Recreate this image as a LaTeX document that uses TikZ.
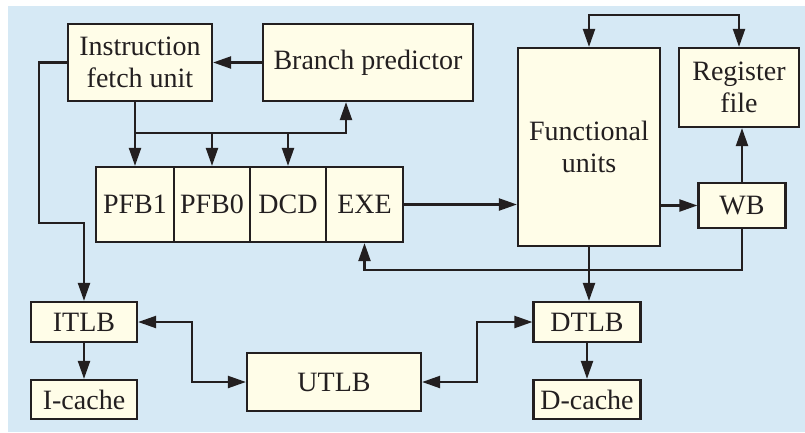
\documentclass[tikz,border=0pt]{standalone}
\usepackage{fontspec}
\setmainfont{Liberation Serif}
\usetikzlibrary{arrows.meta,calc}
\definecolor{panel}{RGB}{214,233,245}
\definecolor{cream}{RGB}{255,253,232}
\definecolor{ink}{RGB}{35,31,32}
\begin{document}
\begin{tikzpicture}[
  x={(1pt,0)}, y={(0,-1pt)},
  box/.style={draw=ink, fill=cream, line width=2.2pt, inner sep=0pt,
    align=center, text=ink, font=\fontsize{28}{32}\selectfont},
  link/.style={draw=ink, line width=2.2pt},
  arr/.style={link, -{Triangle[length=18pt,width=12pt]}},
  darr/.style={link, {Triangle[length=18pt,width=12pt]}-{Triangle[length=18pt,width=12pt]}}
]
\useasboundingbox (0,0) rectangle (805,432);
\fill[panel] (8,6) rectangle (805,432);

% front end
\node[box, minimum width=144pt, minimum height=77pt] (ifu) at (140,62.5) {Instruction\\fetch unit};
\node[box, minimum width=210pt, minimum height=77pt] (bp) at (368,62.5) {Branch predictor};

% pipeline stages
\node[box, minimum width=78pt, minimum height=75pt] (pfb1) at (135,204.5) {PFB1};
\node[box, minimum width=76pt, minimum height=75pt] (pfb0) at (212,204.5) {PFB0};
\node[box, minimum width=76pt, minimum height=75pt] (dcd) at (288,204.5) {DCD};
\node[box, minimum width=77pt, minimum height=75pt] (exe) at (364.5,204.5) {EXE};

% execution side
\node[box, minimum width=142pt, minimum height=198pt] (fu) at (589,147) {Functional\\units};
\node[box, minimum width=120pt, minimum height=79pt] (rf) at (739,87.5) {Register\\file};
\node[box, minimum width=87pt, minimum height=45pt] (wb) at (742,205.5) {WB};

% memory side
\node[box, minimum width=106pt, minimum height=40pt] (itlb) at (84,322) {ITLB};
\node[box, minimum width=106pt, minimum height=39pt] (icache) at (84,399.5) {I-cache};
\node[box, minimum width=174pt, minimum height=58pt] (utlb) at (334,382) {UTLB};
\node[box, minimum width=107pt, minimum height=40pt] (dtlb) at (587,322) {DTLB};
\node[box, minimum width=107pt, minimum height=39pt] (dcache) at (587,399.5) {D-cache};

% bend points
\coordinate (lbend) at (39,223);
\coordinate (bus) at (0,133);
\coordinate (bpin) at (346,0);
\coordinate (top) at (0,15);
\coordinate (ret) at (0,270);

% fetch paths
\draw[arr] (bp.west) -- (ifu.east);
\draw[arr] (ifu.west) -| (lbend) -| (itlb.north);
\draw[arr] (pfb1.north |- ifu.south) -- (pfb1.north);
\draw[arr] (pfb1.north |- bus) -| (bpin |- bp.south);
\draw[arr] (pfb0.north |- bus) -- (pfb0.north);
\draw[arr] (dcd.north |- bus) -- (dcd.north);

% execute and write back
\draw[arr] (exe.east) -- (exe.east -| fu.west);
\draw[arr] (wb.west -| fu.east) -- (wb.west);
\draw[arr] (wb.north) -- (wb.north |- rf.south);
\draw[darr] (fu.north) -- (fu.north |- top) -| (rf.north);
\draw[arr] (wb.south) -- (wb.south |- ret) -| (exe.south);
\draw[arr] (fu.south) -- (fu.south |- dtlb.north);

% translation and caches
\draw[arr] (itlb.south) -- (icache.north);
\draw[arr] (dtlb.south) -- (dcache.north);
\draw[darr] (itlb.east) -| ($(itlb.east)!.5!(utlb.west)$) |- (utlb.west);
\draw[darr] (utlb.east) -| ($(utlb.east)!.5!(dtlb.west)$) |- (dtlb.west);
\end{tikzpicture}
\end{document}
